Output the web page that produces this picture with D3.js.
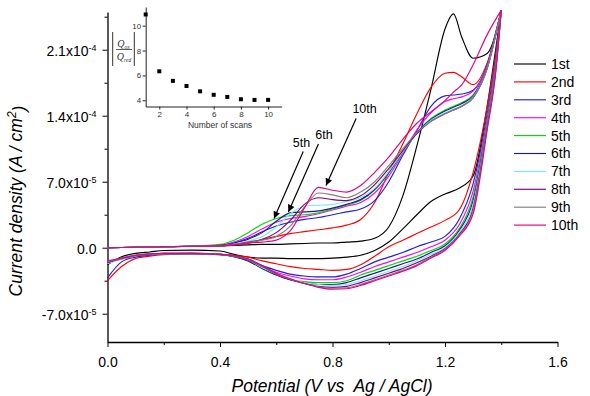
<!DOCTYPE html>
<html>
<head>
<meta charset="utf-8">
<script src="https://cdn.jsdelivr.net/npm/d3@7"></script>
<style>
body { margin: 0; background: #fff; }
svg { display: block; font-family: "Liberation Sans", Arial, sans-serif; }
</style>
</head>
<body>
<div id="chart"></div>
<script>
var svgWidth = 590;
var svgHeight = 396;

var margin = {
    top: 12,
    right: 32.5,
    bottom: 54,
    left: 107.5
};

var width = svgWidth - margin.left - margin.right;
var height = svgHeight - margin.top - margin.bottom;

// scan labels and colours
var scanNames = ["1st", "2nd", "3rd", "4th", "5th", "6th", "7th", "8th", "9th", "10th"];
var scanColors = ["#000000", "#ff0000", "#1f1fd6", "#ff00ff", "#00dd00", "#1c1c8c", "#80e8f0", "#800080", "#808080", "#e6007e"];

// potentials (V vs Ag/AgCl) of the anodic (forward) and cathodic (reverse) sweeps
var fwdPotential = [0, 0.1, 0.2, 0.3, 0.4, 0.45, 0.5, 0.55, 0.6, 0.65, 0.7, 0.75, 0.8, 0.85, 0.9, 0.95, 1.0, 1.05, 1.1, 1.15, 1.2, 1.23, 1.26, 1.3, 1.35, 1.4];
var revPotential = [1.4, 1.38, 1.35, 1.3, 1.25, 1.2, 1.15, 1.1, 1.05, 1.0, 0.95, 0.9, 0.85, 0.8, 0.75, 0.7, 0.65, 0.6, 0.55, 0.5, 0.45, 0.4, 0.3, 0.2, 0.15, 0.1, 0.05, 0];

// current density, units of 1e-5 A/cm2, forward sweep of each scan
var fwdScan1 = [0, 0.05, 0.1, 0.15, 0.2, 0.25, 0.3, 0.35, 0.35, 0.4, 0.45, 0.5, 0.5, 0.6, 0.7, 1.0, 2.2, 5.5, 10.8, 16.8, 23.2, 24.8, 22.3, 20.1, 20.6, 25.2];
var fwdScan2 = [0, 0.05, 0.1, 0.15, 0.2, 0.3, 0.45, 0.85, 1.2, 1.5, 1.7, 1.9, 2.1, 2.4, 3.0, 4.8, 8.0, 11.0, 14.2, 17.0, 18.5, 18.6, 18.1, 17.3, 19.6, 25.2];
var fwdScan3 = [0, 0.05, 0.1, 0.15, 0.25, 0.5, 1.0, 1.7, 2.3, 2.7, 3.0, 3.2, 3.5, 3.8, 4.1, 5.0, 7.0, 9.8, 12.4, 15.0, 16.1, 16.2, 16.3, 16.7, 19.4, 25.2];
var fwdScan4 = [0, 0.05, 0.1, 0.15, 0.25, 0.6, 1.2, 2.0, 2.7, 3.1, 3.3, 3.6, 4.0, 4.4, 4.8, 5.8, 7.6, 10.0, 12.5, 14.3, 15.5, 15.8, 16.0, 16.6, 19.3, 25.2];
var fwdScan5 = [0, 0.05, 0.1, 0.15, 0.35, 0.8, 1.6, 2.5, 3.1, 3.4, 3.5, 3.7, 4.1, 4.5, 5.0, 6.1, 7.9, 10.1, 12.2, 13.7, 14.6, 15.0, 15.4, 16.2, 19.2, 25.2];
var fwdScan6 = [0, 0.05, 0.1, 0.15, 0.25, 0.5, 0.9, 1.6, 2.8, 3.7, 3.8, 3.9, 4.2, 4.6, 5.1, 6.2, 8.0, 10.2, 12.2, 13.6, 14.5, 14.9, 15.3, 16.1, 19.2, 25.2];
var fwdScan7 = [0, 0.05, 0.1, 0.15, 0.2, 0.4, 0.7, 1.2, 2.2, 3.6, 4.4, 4.5, 4.6, 4.9, 5.3, 6.3, 8.1, 10.2, 12.1, 13.5, 14.3, 14.7, 15.1, 16.0, 19.1, 25.2];
var fwdScan8 = [0, 0.05, 0.1, 0.15, 0.2, 0.35, 0.6, 0.9, 1.6, 2.9, 4.6, 5.3, 5.1, 5.0, 5.5, 6.7, 8.4, 10.3, 12.1, 13.4, 14.2, 14.6, 15.0, 15.9, 19.0, 25.2];
var fwdScan9 = [0, 0.05, 0.1, 0.15, 0.2, 0.35, 0.55, 0.8, 1.2, 2.3, 4.3, 5.8, 5.6, 5.3, 5.9, 7.0, 8.7, 10.5, 12.2, 13.4, 14.2, 14.6, 15.0, 15.9, 19.0, 25.2];
var fwdScan10 = [0, 0.05, 0.1, 0.15, 0.2, 0.3, 0.5, 0.6, 0.8, 1.8, 4.2, 6.4, 6.1, 5.9, 6.6, 8.0, 9.6, 11.5, 13.2, 14.4, 15.6, 16.5, 17.3, 19.4, 22.6, 25.2];

// current density, units of 1e-5 A/cm2, reverse sweep of each scan
var revScan1 = [25.2, 21.0, 15.0, 7.6, 6.3, 5.7, 4.9, 3.5, 2.0, 0.6, -0.3, -0.8, -1.0, -1.1, -1.15, -1.15, -1.15, -1.1, -1.1, -1.0, -0.7, -0.35, -0.25, -0.3, -0.45, -0.6, -0.95, -1.8];
var revScan2 = [25.2, 20.5, 15.0, 8.0, 4.0, 2.9, 2.2, 1.5, 0.8, 0.1, -0.9, -1.8, -2.3, -2.4, -2.3, -2.2, -2.0, -1.7, -1.4, -1.0, -0.8, -0.7, -0.65, -0.75, -0.9, -1.15, -2.0, -3.5];
var revScan3 = [25.2, 20.0, 14.2, 6.8, 3.0, 1.2, 0.6, 0.1, -0.5, -1.0, -1.5, -2.2, -2.8, -3.1, -3.1, -3.0, -2.8, -2.4, -1.9, -1.2, -0.85, -0.7, -0.6, -0.65, -0.8, -1.0, -1.5, -3.2];
var revScan4 = [25.2, 19.7, 13.8, 6.0, 2.4, 0.8, 0.1, -0.5, -1.0, -1.5, -2.0, -2.6, -3.1, -3.4, -3.4, -3.3, -3.0, -2.6, -2.0, -1.3, -0.9, -0.7, -0.6, -0.6, -0.7, -0.8, -1.1, -1.6];
var revScan5 = [25.2, 19.4, 13.5, 5.4, 2.0, 0.4, -0.3, -0.9, -1.4, -1.9, -2.4, -2.9, -3.5, -3.7, -3.7, -3.6, -3.4, -2.9, -2.2, -1.4, -0.95, -0.75, -0.65, -0.65, -0.7, -0.85, -1.2, -1.5];
var revScan6 = [25.2, 19.2, 13.3, 5.0, 1.8, 0.2, -0.5, -1.2, -1.7, -2.2, -2.7, -3.2, -3.7, -3.9, -3.9, -3.7, -3.4, -2.9, -2.2, -1.4, -0.95, -0.75, -0.65, -0.65, -0.7, -0.85, -1.2, -1.6];
var revScan7 = [25.2, 19.0, 13.1, 4.6, 1.6, 0.0, -0.7, -1.4, -2.0, -2.5, -3.0, -3.5, -3.9, -4.0, -3.9, -3.7, -3.3, -2.8, -2.1, -1.3, -0.9, -0.72, -0.62, -0.62, -0.7, -0.85, -1.2, -1.7];
var revScan8 = [25.2, 18.8, 12.9, 4.2, 1.4, -0.1, -0.9, -1.6, -2.2, -2.7, -3.2, -3.7, -4.1, -4.2, -4.1, -3.8, -3.4, -2.8, -2.0, -1.3, -0.9, -0.7, -0.6, -0.6, -0.68, -0.82, -1.15, -1.6];
var revScan9 = [25.2, 18.6, 12.7, 3.9, 1.3, -0.2, -1.0, -1.8, -2.4, -2.9, -3.4, -3.9, -4.25, -4.3, -4.15, -3.8, -3.35, -2.75, -2.0, -1.25, -0.88, -0.7, -0.6, -0.6, -0.66, -0.8, -1.1, -1.5];
var revScan10 = [25.2, 18.5, 12.5, 3.6, 1.2, -0.3, -1.1, -1.9, -2.5, -3.0, -3.5, -4.0, -4.35, -4.4, -4.2, -3.8, -3.3, -2.7, -1.9, -1.2, -0.85, -0.7, -0.6, -0.6, -0.65, -0.8, -1.1, -1.4];

var fwdScans = [fwdScan1, fwdScan2, fwdScan3, fwdScan4, fwdScan5, fwdScan6, fwdScan7, fwdScan8, fwdScan9, fwdScan10];
var revScans = [revScan1, revScan2, revScan3, revScan4, revScan5, revScan6, revScan7, revScan8, revScan9, revScan10];

// axis ticks
var xTickValues = [0, 0.4, 0.8, 1.2, 1.6];
var xMinorTicks = [0.2, 0.6, 1.0, 1.4];
var yTickValues = [-7, 0, 7, 14, 21];
var yTickMantissa = ["-7.0", "0.0", "7.0", "1.4", "2.1"];
var yTickExponent = ["-5", "", "-5", "-4", "-4"];
var yMinorTicks = [-3.5, 3.5, 10.5, 17.5, 24.5];

// inset: charge ratio vs number of scans
var insetScans = [1, 2, 3, 4, 5, 6, 7, 8, 9, 10];
var insetRatio = [10.9, 6.33, 5.56, 5.15, 4.72, 4.44, 4.27, 4.08, 4.03, 4.03];
var insetXTicks = [2, 4, 6, 8, 10];
var insetYTicks = [4, 6, 8, 10];

// arrow annotations [label, label V, label j, tail V, tail j, tip V, tip j]
var annotations = [
    ["5th", 0.69, 10.7, 0.696, 10.2, 0.592, 3.1],
    ["6th", 0.77, 11.5, 0.75, 11.0, 0.643, 3.8],
    ["10th", 0.914, 14.3, 0.884, 13.7, 0.777, 6.6]
];

var svg = d3
    .select("#chart")
    .append("svg")
    .attr("width", svgWidth)
    .attr("height", svgHeight);

var chartGroup = svg.append("g")
    .attr("transform", `translate(${margin.left}, ${margin.top})`);

var xLinearScale = d3.scaleLinear().domain([0, 1.6]).range([0, width]);
var yLinearScale = d3.scaleLinear().domain([-10, 25]).range([height, 0]);

// x axis
var bottomAxis = d3.axisBottom(xLinearScale)
    .tickValues(xTickValues)
    .tickFormat(d3.format(".1f"))
    .tickSize(5)
    .tickSizeOuter(0)
    .tickPadding(10);

var xAxis = chartGroup.append("g")
    .attr("transform", `translate(0, ${height})`)
    .call(bottomAxis);
xAxis.selectAll("text").attr("font-size", "14px").attr("fill", "#000");

chartGroup.append("g")
    .attr("transform", `translate(0, ${height})`)
    .call(d3.axisBottom(xLinearScale).tickValues(xMinorTicks).tickFormat("").tickSize(3))
    .select(".domain").remove();

// y axis
var leftAxis = d3.axisLeft(yLinearScale)
    .tickValues(yTickValues)
    .tickSize(5)
    .tickSizeOuter(0)
    .tickPadding(6);

var yAxis = chartGroup.append("g").call(leftAxis);
yAxis.selectAll(".tick text").each(function(d, i) {
    var t = d3.select(this).text(null).attr("font-size", "14px").attr("fill", "#000").attr("dy", "0.42em");
    t.append("tspan").text(yTickMantissa[i] + (yTickExponent[i] ? "x10" : ""));
    if (yTickExponent[i])
        t.append("tspan").attr("dy", "-0.55em").attr("font-size", "9px").text(yTickExponent[i]);
});

chartGroup.append("g")
    .call(d3.axisLeft(yLinearScale).tickValues(yMinorTicks).tickFormat("").tickSize(3))
    .select(".domain").remove();

chartGroup.selectAll(".domain").attr("stroke-width", 1.3);

// cyclic voltammograms
var cvLine = d3.line()
    .x(d => xLinearScale(d[0]))
    .y(d => yLinearScale(d[1]))
    .curve(d3.curveMonotoneX);

var curvesGroup = chartGroup.append("g");
fwdScans.forEach(function(scan, i) {
    var fwdPoints = fwdPotential.map((v, k) => [v, scan[k]]);
    var revPoints = revPotential.map((v, k) => [v, revScans[i][k]]).reverse();
    [fwdPoints, revPoints].forEach(function(pts) {
        curvesGroup.append("path")
            .attr("d", cvLine(pts))
            .attr("fill", "none")
            .attr("stroke", scanColors[i])
            .attr("stroke-width", 1.15);
    });
});

// arrows
svg.append("defs").append("marker")
    .attr("id", "arrowhead")
    .attr("viewBox", "0 0 10 10")
    .attr("refX", 10)
    .attr("refY", 5)
    .attr("markerWidth", 9)
    .attr("markerHeight", 7)
    .attr("markerUnits", "userSpaceOnUse")
    .attr("orient", "auto")
    .append("path")
    .attr("d", "M0,0L10,5L0,10Z")
    .attr("fill", "#000");

annotations.forEach(function(a) {
    chartGroup.append("line")
        .attr("x1", xLinearScale(a[3]))
        .attr("y1", yLinearScale(a[4]))
        .attr("x2", xLinearScale(a[5]))
        .attr("y2", yLinearScale(a[6]))
        .attr("stroke", "#000")
        .attr("stroke-width", 1.2)
        .attr("marker-end", "url(#arrowhead)");
    chartGroup.append("text")
        .attr("x", xLinearScale(a[1]))
        .attr("y", yLinearScale(a[2]))
        .attr("text-anchor", "middle")
        .attr("font-size", "12.5px")
        .text(a[0]);
});

// legend
var legendX = 514;
var legendY = 64;
var legendStep = 17.9;
var legendGroup = svg.append("g");
scanNames.forEach(function(name, i) {
    legendGroup.append("line")
        .attr("x1", legendX)
        .attr("x2", legendX + 32)
        .attr("y1", legendY + i * legendStep)
        .attr("y2", legendY + i * legendStep)
        .attr("stroke", scanColors[i])
        .attr("stroke-width", 1.15);
    legendGroup.append("text")
        .attr("x", legendX + 37)
        .attr("y", legendY + i * legendStep)
        .attr("dy", "0.35em")
        .attr("font-size", "14px")
        .text(name);
});

// axis titles
var yTitle = svg.append("text")
    .attr("transform", "translate(22, 201) rotate(-90)")
    .attr("text-anchor", "middle")
    .attr("font-size", "17.5px")
    .attr("font-style", "italic");
yTitle.append("tspan").text("Current density (A / cm");
yTitle.append("tspan").attr("dy", "-0.5em").attr("font-size", "12px").text("2");
yTitle.append("tspan").attr("dy", "0.5em").text(")");

svg.append("text")
    .attr("x", 332)
    .attr("y", 392)
    .attr("text-anchor", "middle")
    .attr("font-size", "17.5px")
    .attr("font-style", "italic")
    .style("white-space", "pre")
    .text("Potential (V vs  Ag / AgCl)");

// inset
var insetX = d3.scaleLinear().domain([1, 11]).range([145.7, 281.7]);
var insetY = d3.scaleLinear().domain([3.5, 11.5]).range([106.5, 7]);
var insetGroup = svg.append("g");

var insetXAxis = insetGroup.append("g")
    .attr("transform", "translate(0, 106.5)")
    .call(d3.axisBottom(insetX).tickValues(insetXTicks).tickSize(3).tickSizeOuter(0).tickPadding(2));
var insetYAxis = insetGroup.append("g")
    .attr("transform", "translate(145.7, 0)")
    .call(d3.axisLeft(insetY).tickValues(insetYTicks).tickSize(3).tickSizeOuter(0).tickPadding(1.5));
insetGroup.selectAll(".tick text").attr("font-size", "8px").attr("fill", "#333");
insetGroup.selectAll(".domain").attr("stroke", "#222");
insetGroup.selectAll(".tick line").attr("stroke", "#222");

insetGroup.selectAll("rect.pt")
    .data(insetScans)
    .enter()
    .append("rect")
    .attr("class", "pt")
    .attr("x", d => insetX(d) - 2)
    .attr("y", (d, i) => insetY(insetRatio[i]) - 2)
    .attr("width", 4)
    .attr("height", 4)
    .attr("fill", "#000");

insetGroup.append("text")
    .attr("x", 220)
    .attr("y", 128)
    .attr("text-anchor", "middle")
    .attr("font-size", "8.5px")
    .attr("fill", "#333")
    .text("Number of scans");

// |Q_ox / Q_red|
var qGroup = insetGroup.append("g")
    .attr("font-family", "'Liberation Serif', 'DejaVu Serif', serif")
    .attr("font-style", "italic")
    .attr("fill", "#333");
[112.7, 134.3].forEach(function(bx) {
    qGroup.append("line")
        .attr("x1", bx).attr("x2", bx)
        .attr("y1", 32).attr("y2", 66)
        .attr("stroke", "#333")
        .attr("stroke-width", 1);
});
qGroup.append("line")
    .attr("x1", 116).attr("x2", 132)
    .attr("y1", 49.5).attr("y2", 49.5)
    .attr("stroke", "#333")
    .attr("stroke-width", 0.8);
var qNum = qGroup.append("text").attr("x", 123.5).attr("y", 46.5).attr("text-anchor", "middle").attr("font-size", "10px");
qNum.append("tspan").text("Q");
qNum.append("tspan").attr("dy", "2").attr("font-size", "5.5px").text("ox");
var qDen = qGroup.append("text").attr("x", 124).attr("y", 60).attr("text-anchor", "middle").attr("font-size", "10px");
qDen.append("tspan").text("Q");
qDen.append("tspan").attr("dy", "2").attr("font-size", "5.5px").text("red");
</script>
</body>
</html>
